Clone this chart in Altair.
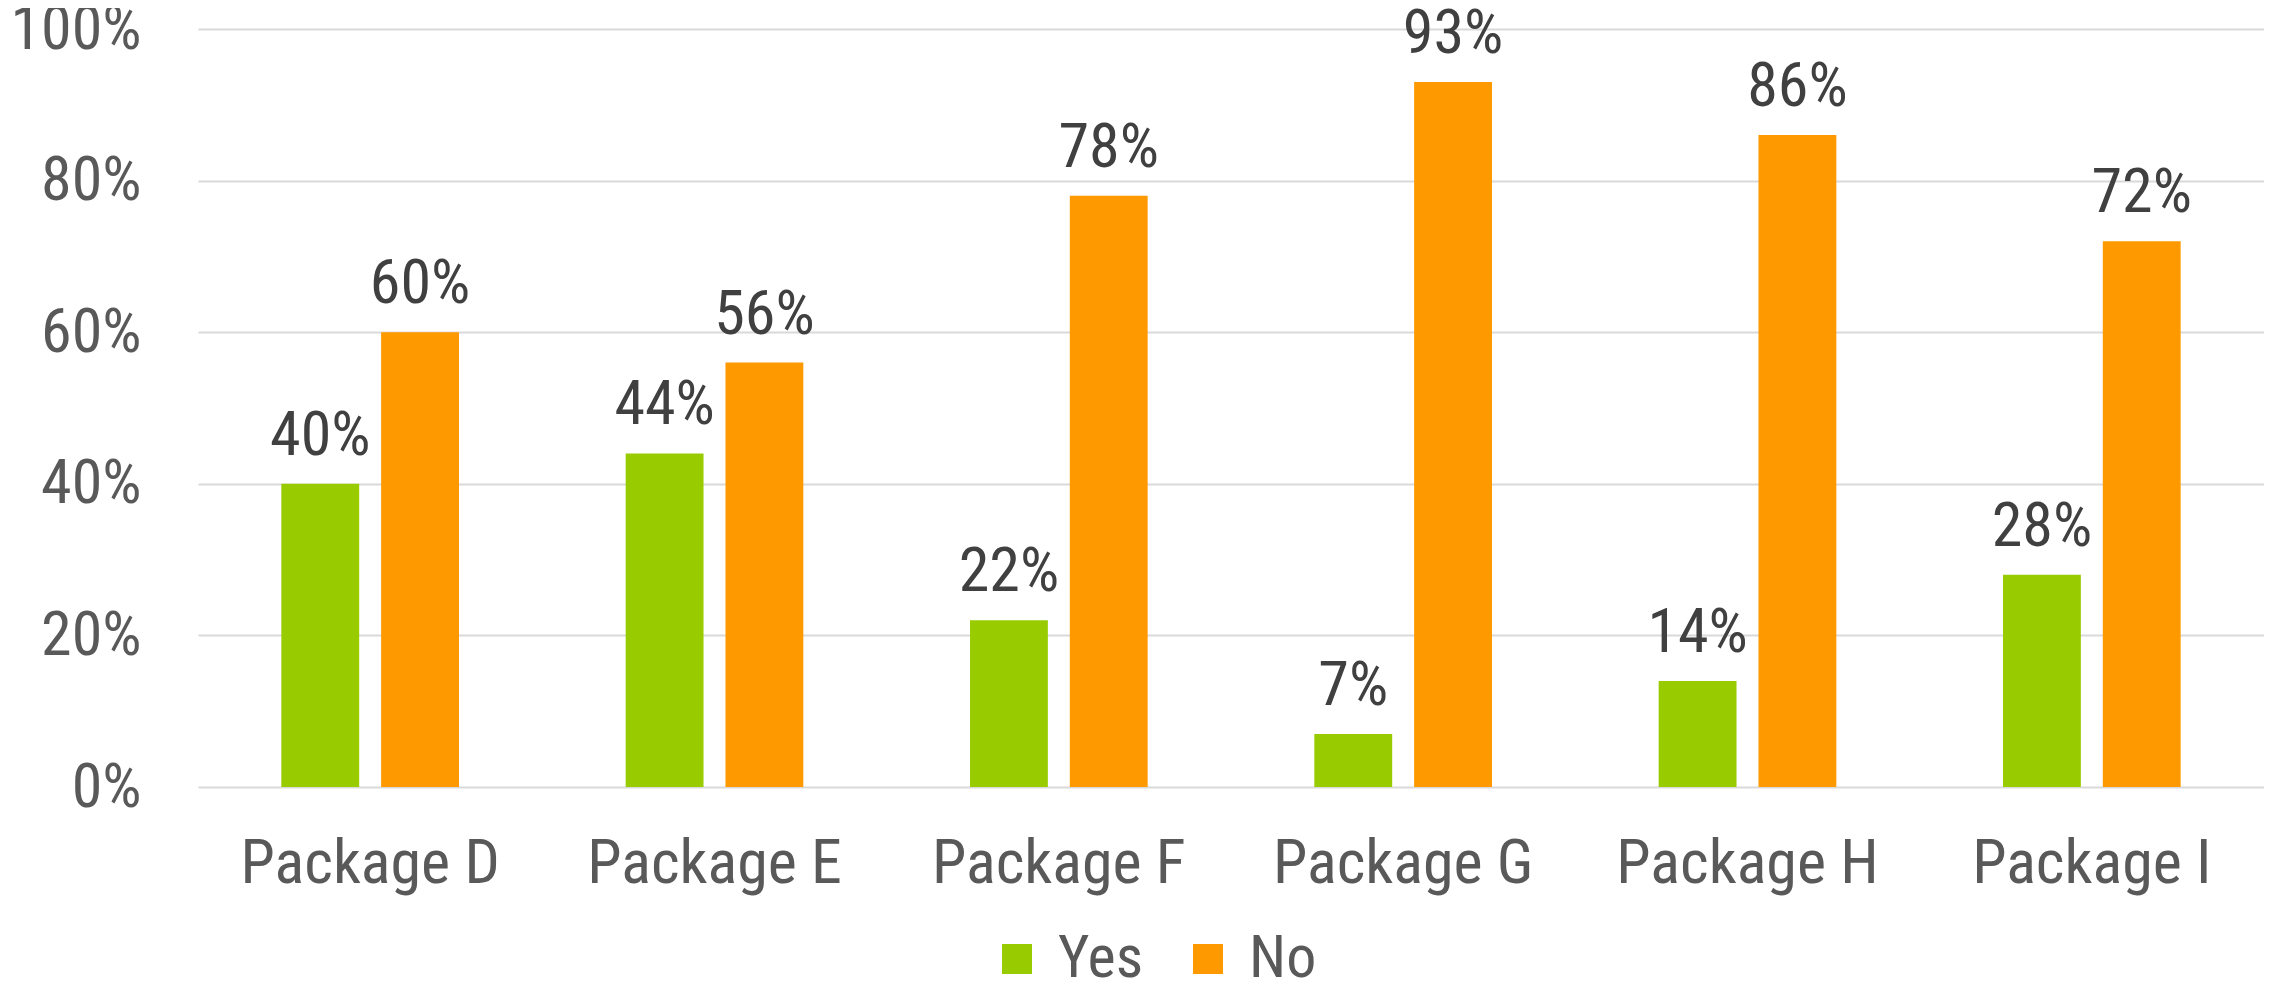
import altair as alt
import pandas as pd

packages = ["Package D", "Package E", "Package F", "Package G", "Package H", "Package I"]
yes_vals = [0.40, 0.44, 0.22, 0.07, 0.14, 0.28]
no_vals = [0.60, 0.56, 0.78, 0.93, 0.86, 0.72]
series = ["Yes", "No"]
colors = ["#99CC00", "#FF9900"]

rows = []
for p, y, n in zip(packages, yes_vals, no_vals):
    rows.append({"pkg": p, "resp": "Yes", "val": y})
    rows.append({"pkg": p, "resp": "No", "val": n})
df = pd.DataFrame(rows)

FONT = "Roboto Condensed"

base = alt.Chart(df).encode(
    x=alt.X("pkg:N", sort=packages, title=None,
            scale=alt.Scale(paddingInner=0, paddingOuter=0),
            axis=alt.Axis(labelAngle=0, labelFont=FONT, labelFontSize=62,
                          labelColor="#595959", labelPadding=46, ticks=False,
                          domain=False, grid=False, labelLimit=0)),
    xOffset=alt.XOffset("resp:N", sort=series,
                        scale=alt.Scale(paddingInner=0.22, paddingOuter=0.835)),
)

bars = base.mark_bar().encode(
    y=alt.Y("val:Q", title=None,
            scale=alt.Scale(domain=[0, 1]),
            axis=alt.Axis(format=".0%", values=[0, 0.2, 0.4, 0.6, 0.8, 1.0],
                          labelFont=FONT, labelFontSize=62, labelColor="#595959",
                          labelPadding=57, ticks=False, domain=False, labelLimit=0,
                          grid=True, gridColor="#D9D9D9", gridWidth=2)),
    color=alt.Color("resp:N", sort=series,
                    scale=alt.Scale(domain=series, range=colors),
                    legend=alt.Legend(title=None, orient="none", direction="horizontal",
                                      legendX=789, legendY=900,
                                      symbolType="square", symbolSize=900,
                                      symbolStrokeWidth=0, labelFont=FONT,
                                      labelFontSize=60, labelColor="#595959",
                                      labelOffset=11, columnPadding=34)),
)

labels = base.mark_text(baseline="bottom", dy=-16, font=FONT, fontSize=62,
                        color="#404040").encode(
    y=alt.Y("val:Q"),
    text=alt.Text("val:Q", format=".0%"),
)

chart = (bars + labels).properties(
    width=2066, height=758,
    padding={"left": 190, "top": 21, "right": 0, "bottom": 199},
    autosize=alt.AutoSizeParams(type="none"),
).configure(background="white").configure_view(stroke=None)

chart.save("out.html", embed_options={"renderer": "svg", "actions": False})
